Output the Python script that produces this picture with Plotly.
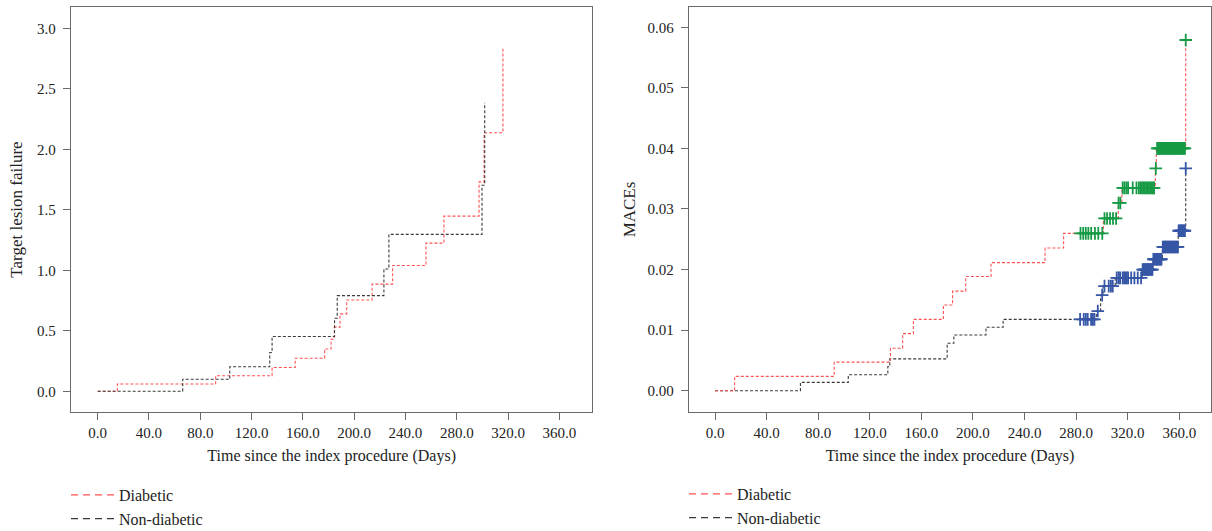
import numpy as np
import plotly.graph_objects as go

# ---------------- data ----------------
x_ticks = [0, 40, 80, 120, 160, 200, 240, 280, 320, 360]
tlf_ticks = [0.0, 0.5, 1.0, 1.5, 2.0, 2.5, 3.0]
mace_ticks = [0.00, 0.01, 0.02, 0.03, 0.04, 0.05, 0.06]

# Left panel: target lesion failure (step curves)
tlf_diab_days = [0, 15.3, 92, 136, 154, 177, 182, 184.5, 189, 194.2, 214, 230, 256, 270, 297.4, 301.3, 316]
tlf_diab = [0, 0.060, 0.129, 0.197, 0.273, 0.350, 0.43, 0.53, 0.64, 0.755, 0.886, 1.04, 1.225, 1.448, 1.731, 2.137, 2.83]
tlf_nondiab_days = [0, 66.3, 103, 134.2, 136, 184.7, 186.8, 223.2, 227.1, 299.7, 301.8]
tlf_nondiab = [0, 0.099, 0.203, 0.321, 0.453, 0.604, 0.791, 1.011, 1.297, 1.703, 2.385]

# Right panel: MACEs (step curves)
mace_diab_days = [0, 15.2, 92.4, 136, 145.5, 153.8, 177.1, 184.2, 194.4, 214, 255.9, 270.3, 301.1, 312.7, 315.5, 341.4, 342.2, 365]
mace_diab = [0, 0.00236, 0.00471, 0.00701, 0.00942, 0.01178, 0.01414, 0.01644, 0.01885, 0.02115, 0.02356, 0.02597, 0.02844, 0.0310, 0.03348, 0.0367, 0.0400, 0.0579]
mace_nondiab_days = [0, 66.2, 103.3, 134, 135.5, 180, 185.2, 210.1, 223.4, 295.7, 299, 300.9, 310.3, 331.2, 339.6, 346.9, 359.2, 365]
mace_nondiab = [0, 0.00137, 0.00263, 0.004, 0.00526, 0.00784, 0.0092, 0.01047, 0.01178, 0.01315, 0.01578, 0.01726, 0.01863, 0.0200, 0.0217, 0.02373, 0.02641, 0.0367]

# Censoring times (MACEs)
mace_diab_censored = [283.4, 285.5, 287.5, 289.5, 291.7, 294.6, 297.2, 300.3,
                      302.0, 304.0, 306.3, 308.6, 311.0,
                      312.9, 314.3,
                      316.1, 317.5, 319.0, 320.3, 323.9, 326.8, 328.6, 329.8, 331.0, 332.1,
                      333.2, 334.3, 335.4, 336.5, 337.6, 338.6, 339.6, 340.5,
                      341.8,
                      342.8, 343.6, 344.4, 345.2, 346.0, 346.8, 347.6, 348.4, 349.2, 350.0,
                      350.8, 351.6, 352.4, 353.2, 354.0, 354.8, 355.6, 356.4, 357.2, 358.0,
                      358.8, 359.6, 360.4, 361.2, 362.0, 362.8, 363.6, 364.4,
                      365.0]
mace_nondiab_censored = [283.1, 285.9, 287.5, 289.0, 291.6, 293.0, 294.2,
                         296.8,
                         300.2,
                         302.0, 305.3, 307.0, 308.4,
                         311.5, 313.0, 314.1, 316.1, 317.2, 318.2, 319.3, 320.3, 322.7, 325.2, 327.8, 330.4,
                         331.6, 332.3, 333.0, 333.7, 334.4, 335.1, 335.8, 336.5, 337.2, 337.9, 338.6, 339.2,
                         339.9, 340.6, 341.3, 342.0, 342.7, 343.4, 344.1, 344.8, 345.5, 346.2,
                         347.2, 347.9, 348.6, 349.3, 350.0, 350.7, 351.4, 352.1, 352.8, 353.5,
                         354.2, 354.9, 355.6, 356.3, 357.0, 357.7, 358.4, 359.0,
                         359.5, 360.2, 360.9, 361.6, 362.3, 363.0, 363.7, 364.4,
                         365.0]

# ---------------- styles ----------------
RED = "#ff5252"
BLACK = "#3a3a3a"
GREEN = "#169a45"
BLUE = "#3656a6"
FONT = "Liberation Serif"
AXC = "#6a6a6a"
W, H = 1212, 531


def step_value(days, vals, t):
    idx = np.searchsorted(np.asarray(days), np.asarray(t), side="right") - 1
    return np.asarray(vals)[idx]


fig = go.Figure()

line_style = dict(width=1.1, dash="3px,2px")

# left panel curves
fig.add_trace(go.Scatter(x=tlf_diab_days, y=tlf_diab, mode="lines", line_shape="hv",
                         line=dict(color=RED, **line_style), showlegend=False, xaxis="x", yaxis="y"))
fig.add_trace(go.Scatter(x=tlf_nondiab_days, y=tlf_nondiab, mode="lines", line_shape="hv",
                         line=dict(color=BLACK, **line_style), showlegend=False, xaxis="x", yaxis="y"))

# right panel curves
fig.add_trace(go.Scatter(x=mace_nondiab_days, y=mace_nondiab, mode="lines", line_shape="hv",
                         line=dict(color=BLACK, **line_style), showlegend=False, xaxis="x2", yaxis="y2"))
fig.add_trace(go.Scatter(x=mace_diab_days, y=mace_diab, mode="lines", line_shape="hv",
                         line=dict(color=RED, **line_style), showlegend=False, xaxis="x2", yaxis="y2"))

# censoring marks
fig.add_trace(go.Scatter(x=mace_nondiab_censored,
                         y=step_value(mace_nondiab_days, mace_nondiab, mace_nondiab_censored),
                         mode="markers", marker=dict(symbol="cross-thin", size=9,
                                                     line=dict(color=BLUE, width=1.8)),
                         showlegend=False, xaxis="x2", yaxis="y2"))
fig.add_trace(go.Scatter(x=mace_diab_censored,
                         y=step_value(mace_diab_days, mace_diab, mace_diab_censored),
                         mode="markers", marker=dict(symbol="cross-thin", size=9,
                                                     line=dict(color=GREEN, width=1.8)),
                         showlegend=False, xaxis="x2", yaxis="y2"))

# legend entries
leg_style = dict(width=1.3, dash="7px,5px")
for lg, xa, ya in [("legend", "x", "y"), ("legend2", "x2", "y2")]:
    fig.add_trace(go.Scatter(x=[None], y=[None], mode="lines", name="Diabetic",
                             line=dict(color=RED, **leg_style), legend=lg, xaxis=xa, yaxis=ya))
    fig.add_trace(go.Scatter(x=[None], y=[None], mode="lines", name="Non-diabetic",
                             line=dict(color=BLACK, **leg_style), legend=lg, xaxis=xa, yaxis=ya))

axis_common = dict(showgrid=False, zeroline=False, showline=True, mirror=True,
                   linecolor=AXC, linewidth=1.3, ticks="outside", ticklen=7,
                   tickcolor=AXC, tickwidth=1.3, automargin=False,
                   tickfont=dict(family=FONT, size=15, color="#222"))
xtitle_font = dict(family=FONT, size=16, color="#222")
ytitle_font = dict(family=FONT, size=17, color="#222")

YDOM = [1 - 411.7 / H, 1 - 7.3 / H]

fig.update_layout(
    width=W, height=H,
    margin=dict(l=0, r=0, t=0, b=0, autoexpand=False),
    paper_bgcolor="white", plot_bgcolor="white",
    font=dict(family=FONT, size=15, color="#222"),
    xaxis=dict(domain=[71 / W, 592.3 / W], range=[-20.8, 385.7], tickvals=x_ticks,
               tickformat=".1f", anchor="y", ticklabelstandoff=0,
               title=dict(text="Time since the index procedure (Days)", standoff=9, font=xtitle_font),
               **axis_common),
    yaxis=dict(domain=YDOM, range=[-0.1686, 3.1736], tickvals=tlf_ticks, tickformat=".1f",
               anchor="x", ticklabelstandoff=4,
               title=dict(text="Target lesion failure", standoff=10, font=ytitle_font),
               **axis_common),
    xaxis2=dict(domain=[689 / W, 1211 / W], range=[-20.2, 384.6], tickvals=x_ticks,
                tickformat=".1f", anchor="y2", ticklabelstandoff=0,
                title=dict(text="Time since the index procedure (Days)", standoff=9, font=xtitle_font),
                **axis_common),
    yaxis2=dict(domain=YDOM, range=[-0.00347, 0.0633], tickvals=mace_ticks, tickformat=".2f",
                anchor="x2", ticklabelstandoff=4,
                title=dict(text="MACEs", standoff=7, font=ytitle_font),
                **axis_common),
    legend=dict(x=66 / W, y=1 - 478 / H, xanchor="left", yanchor="top", itemwidth=43,
                font=dict(family=FONT, size=16, color="#222"), bgcolor="rgba(0,0,0,0)"),
    legend2=dict(x=684 / W, y=1 - 477 / H, xanchor="left", yanchor="top", itemwidth=43,
                 font=dict(family=FONT, size=16, color="#222"), bgcolor="rgba(0,0,0,0)"),
)

fig.write_html("out.html", config={"displayModeBar": False},
               post_script="document.body.style.margin='0';document.body.style.overflow='hidden';")
